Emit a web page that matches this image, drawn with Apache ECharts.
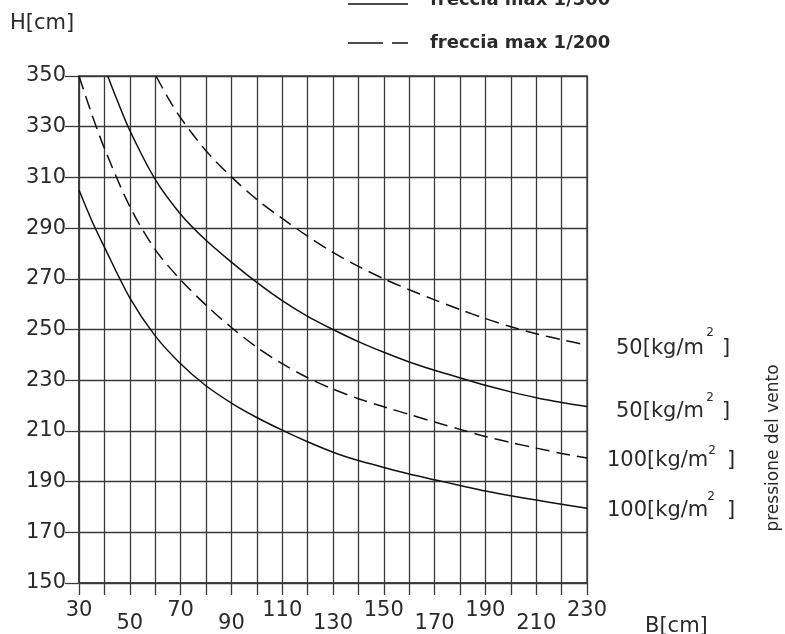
<!DOCTYPE html>
<html>
<head>
<meta charset="utf-8">
<script src="https://cdn.jsdelivr.net/npm/echarts@6/dist/echarts.min.js"></script>
<style>
  html, body { margin: 0; padding: 0; background: #fff; }
  #main { width: 785px; height: 634px; }
</style>
</head>
<body>
<div id="main"></div>
<script>
// tick labels
var xTickLabels = [30, 50, 70, 90, 110, 130, 150, 170, 190, 210, 230];
var yTickLabels = [150, 170, 190, 210, 230, 250, 270, 290, 310, 330, 350];

// 100 kg/m2, freccia max 1/300 (solid, lower)
var lowSolidX = [30, 35, 40, 50, 60, 70, 80, 90, 100, 110, 120, 130, 140, 150, 160, 170, 180, 190, 200, 210, 220, 230];
var lowSolidY = [305, 293, 282.5, 262.5, 247.5, 236.5, 227.8, 221, 215.3, 210.3, 205.7, 201.6, 198.3, 195.6, 193, 190.7, 188.5, 186.3, 184.4, 182.7, 181.1, 179.5];
// 50 kg/m2, freccia max 1/300 (solid, upper)
var upSolidX = [41.3, 45, 50, 60, 70, 80, 90, 100, 110, 120, 130, 140, 150, 160, 170, 180, 190, 200, 210, 220, 230];
var upSolidY = [350, 340.5, 328.5, 309.2, 295.5, 285.2, 276.6, 268.6, 261.4, 255.2, 250, 245.2, 241, 237.2, 233.9, 230.9, 228, 225.4, 223.1, 221.2, 219.6];
// 100 kg/m2, freccia max 1/200 (dashed, lower)
var lowDashX = [30, 35, 40, 50, 60, 70, 80, 90, 100, 110, 120, 130, 140, 150, 160, 170, 180, 190, 200, 210, 220, 230];
var lowDashY = [350, 335, 321.5, 298.5, 281.5, 269.6, 259.6, 250.8, 243, 236.5, 231, 226.5, 222.7, 219.5, 216.5, 213.5, 210.6, 207.8, 205.4, 203.2, 201.1, 199.3];
// 50 kg/m2, freccia max 1/200 (dashed, upper)
var upDashX = [60.3, 65, 70, 80, 90, 100, 110, 120, 130, 140, 150, 160, 170, 180, 190, 200, 210, 220, 230];
var upDashY = [350, 341.5, 333.5, 320.5, 310.2, 301.3, 293.8, 286.8, 280.4, 274.9, 270, 265.7, 261.7, 257.9, 254.3, 251.1, 248.3, 246, 243.8];

// right side labels
var sideLabels = ['50[kg/m', '50[kg/m', '100[kg/m', '100[kg/m'];
var sideLabelY = [349, 412, 461, 511];

function pairs(xs, ys) {
    return xs.map(function (x, i) { return [x, ys[i]]; });
}

var chart = echarts.init(document.getElementById('main'));
var lineCol = '#3a3a3a';
var txtCol = '#2a2a2a';
var font = 'DejaVu Sans';

function curve(name, xs, ys, dashed) {
    return {
        name: name, type: 'line', data: pairs(xs, ys),
        smooth: 0.3, symbol: 'none', clip: true,
        lineStyle: { color: '#111', width: 1.5, type: dashed ? [14, 7] : 'solid' }
    };
}

var side = [];
var supDy = [-16, -14, -10.5, -14.5];
var supX = [710, 710, 712, 711];
var left = [616, 616, 607, 607];
var brX = [722, 722, 727, 727];
sideLabels.forEach(function (t, i) {
    side.push({ type: 'text', x: left[i], y: sideLabelY[i],
        style: { text: t, font: '21px ' + font, fill: txtCol, align: 'left', verticalAlign: 'middle' } });
    side.push({ type: 'text', x: supX[i], y: sideLabelY[i] + supDy[i],
        style: { text: '2', font: '12px ' + font, fill: txtCol, align: 'center', verticalAlign: 'middle' } });
    side.push({ type: 'text', x: brX[i], y: sideLabelY[i],
        style: { text: ']', font: '21px ' + font, fill: txtCol, align: 'left', verticalAlign: 'middle' } });
});

chart.setOption({
    animation: false,
    backgroundColor: '#fff',
    grid: { left: 79, top: 76, width: 508, height: 508, show: true, borderColor: lineCol, borderWidth: 1.3 },
    xAxis: {
        type: 'value', min: 30, max: 230, interval: 10,
        axisLine: { lineStyle: { color: lineCol, width: 1.5 } },
        axisTick: { show: true, length: 12, lineStyle: { color: lineCol, width: 1.3 } },
        splitLine: { show: true, lineStyle: { color: lineCol, width: 1.3 } },
        axisLabel: {
            customValues: xTickLabels, margin: 17, color: txtCol, fontFamily: font, fontSize: 21,
            formatter: function (v) {
                return ((v - 30) / 20) % 2 ? '{lo|' + v + '}' : '{hi|' + v + '}';
            },
            rich: {
                hi: { fontFamily: font, fontSize: 21, color: txtCol },
                lo: { fontFamily: font, fontSize: 21, color: txtCol, padding: [13, 0, 0, 0] }
            }
        }
    },
    yAxis: {
        type: 'value', min: 150, max: 350, interval: 10,
        axisLine: { show: true, lineStyle: { color: lineCol, width: 1.5 } },
        axisTick: { show: true, customValues: yTickLabels, length: 14, lineStyle: { color: lineCol, width: 1.3 } },
        splitLine: { show: true, lineStyle: { color: lineCol, width: 1.3 } },
        axisLabel: { customValues: yTickLabels, margin: 13, color: txtCol, fontFamily: font, fontSize: 21 }
    },
    series: [
        curve('100 1/300', lowSolidX, lowSolidY, false),
        curve('50 1/300', upSolidX, upSolidY, false),
        curve('100 1/200', lowDashX, lowDashY, true),
        curve('50 1/200', upDashX, upDashY, true)
    ],
    graphic: [
        { type: 'text', x: 10, y: 24, style: { text: 'H[cm]', font: '21px ' + font, fill: txtCol, verticalAlign: 'middle' } },
        { type: 'text', x: 645, y: 627, style: { text: 'B[cm]', font: '21px ' + font, fill: txtCol, verticalAlign: 'middle' } },
        // legend
        { type: 'line', shape: { x1: 348, y1: 4, x2: 408, y2: 4 }, style: { stroke: '#111', lineWidth: 1.5 } },
        { type: 'text', x: 430, y: 0, style: { text: 'freccia max 1/300', font: 'bold 18px ' + font, fill: txtCol, verticalAlign: 'middle' } },
        { type: 'line', shape: { x1: 348, y1: 43, x2: 383, y2: 43 }, style: { stroke: '#111', lineWidth: 1.5 } },
        { type: 'line', shape: { x1: 392, y1: 43, x2: 408, y2: 43 }, style: { stroke: '#111', lineWidth: 1.5 } },
        { type: 'text', x: 430, y: 43.5, style: { text: 'freccia max 1/200', font: 'bold 18px ' + font, fill: txtCol, verticalAlign: 'middle' } },
        { type: 'text', x: 774, y: 448, rotation: Math.PI / 2,
            style: { text: 'pressione del vento', font: '17px ' + font, fill: txtCol, align: 'center', verticalAlign: 'middle' } }
    ].concat(side)
});
</script>
</body>
</html>
